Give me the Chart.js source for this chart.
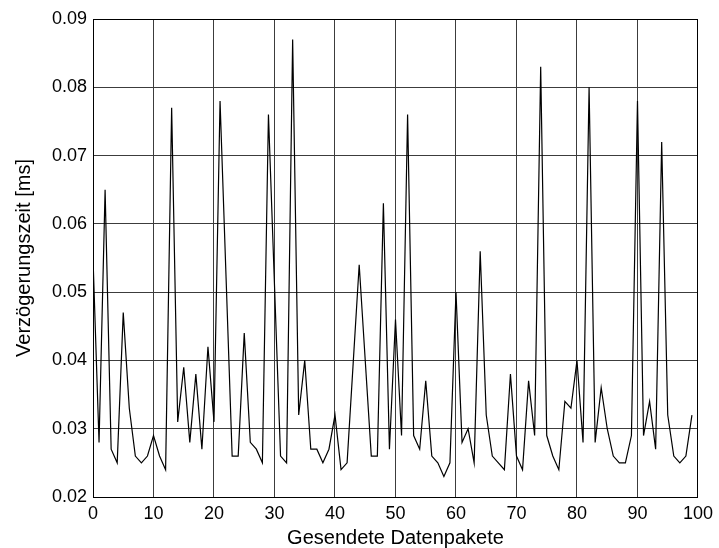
<!DOCTYPE html>
<html>
<head>
<meta charset="utf-8">
<title>Verzögerungszeit</title>
<script src="https://cdn.jsdelivr.net/npm/chart.js@4/dist/chart.umd.min.js"></script>
<style>
    html, body {
        margin: 0;
        padding: 0;
        background: #ffffff;
    }
    #delayChart {
        display: block;
    }
</style>
</head>
<body>
<canvas id="delayChart" width="719" height="548"></canvas>
<script>
// Delay per sent packet, packets 0..99 (ms)
const delayValues = [
    0.055, 0.028, 0.065, 0.027, 0.025, 0.047, 0.033, 0.026, 0.025, 0.026,
    0.029, 0.026, 0.024, 0.077, 0.031, 0.039, 0.028, 0.038, 0.027, 0.042,
    0.031, 0.078, 0.052, 0.026, 0.026, 0.044, 0.028, 0.027, 0.025, 0.076,
    0.051, 0.026, 0.025, 0.087, 0.032, 0.040, 0.027, 0.027, 0.025, 0.027,
    0.032, 0.024, 0.025, 0.0395, 0.054, 0.040, 0.026, 0.026, 0.063, 0.027,
    0.046, 0.029, 0.076, 0.029, 0.027, 0.037, 0.026, 0.025, 0.023, 0.025,
    0.050, 0.028, 0.030, 0.025, 0.056, 0.032, 0.026, 0.025, 0.024, 0.038,
    0.026, 0.024, 0.037, 0.029, 0.083, 0.029, 0.026, 0.024, 0.034, 0.033,
    0.040, 0.028, 0.080, 0.028, 0.036, 0.030, 0.026, 0.025, 0.025, 0.029,
    0.078, 0.029, 0.034, 0.027, 0.072, 0.032, 0.026, 0.025, 0.026, 0.032
];

// Axis ranges and tick steps
const xRange = [0, 100];
const xStep = 10;
const yRange = [0.02, 0.09];
const yStep = 0.01;

const xTitle = 'Gesendete Datenpakete';
const yTitle = 'Verzögerungszeit [ms]';

const FONT_FAMILY = '"Liberation Sans", Arial, Helvetica, sans-serif';

// Closed box around the plot area (top and right edges too)
const boxPlugin = {
    id: 'plotBox',
    afterDatasetsDraw(chart) {
        const { ctx, chartArea } = chart;
        ctx.save();
        ctx.strokeStyle = '#000000';
        ctx.lineWidth = 1;
        ctx.strokeRect(
            Math.round(chartArea.left) + 0.5,
            Math.round(chartArea.top) + 0.5,
            Math.round(chartArea.right - chartArea.left) - 1,
            Math.round(chartArea.bottom - chartArea.top)
        );
        ctx.restore();
    }
};

const ctx = document.getElementById('delayChart').getContext('2d');

new Chart(ctx, {
    type: 'line',
    data: {
        datasets: [{
            data: delayValues.map((v, i) => ({ x: i, y: v })),
            borderColor: '#000000',
            borderWidth: 1.2,
            pointRadius: 0,
            tension: 0,
            fill: false
        }]
    },
    options: {
        responsive: false,
        animation: false,
        events: [],
        layout: {
            padding: { left: 0, top: 19, right: 19, bottom: 0 }
        },
        plugins: {
            legend: { display: false },
            tooltip: { enabled: false }
        },
        scales: {
            x: {
                type: 'linear',
                min: xRange[0],
                max: xRange[1],
                afterFit(scale) {
                    scale.height = 51;
                },
                grid: {
                    color: '#3c3c3c',
                    lineWidth: 1,
                    drawTicks: false
                },
                border: { color: '#000000', width: 1 },
                ticks: {
                    stepSize: xStep,
                    autoSkip: false,
                    maxRotation: 0,
                    padding: 6,
                    color: '#000000',
                    font: { family: FONT_FAMILY, size: 18 }
                },
                title: {
                    display: true,
                    text: xTitle,
                    color: '#000000',
                    padding: { top: 0, bottom: 0 },
                    font: { family: FONT_FAMILY, size: 20, lineHeight: 1 }
                }
            },
            y: {
                type: 'linear',
                min: yRange[0],
                max: yRange[1],
                afterFit(scale) {
                    scale.width = 93;
                },
                grid: {
                    color: '#3c3c3c',
                    lineWidth: 1,
                    drawTicks: false
                },
                border: { color: '#000000', width: 1 },
                ticks: {
                    stepSize: yStep,
                    autoSkip: false,
                    padding: 6,
                    color: '#000000',
                    font: { family: FONT_FAMILY, size: 18 },
                    callback: value => value.toFixed(2)
                },
                title: {
                    display: true,
                    text: yTitle,
                    color: '#000000',
                    padding: { top: 14, bottom: 0 },
                    font: { family: FONT_FAMILY, size: 20, lineHeight: 1 }
                }
            }
        }
    },
    plugins: [boxPlugin]
});
</script>
</body>
</html>
